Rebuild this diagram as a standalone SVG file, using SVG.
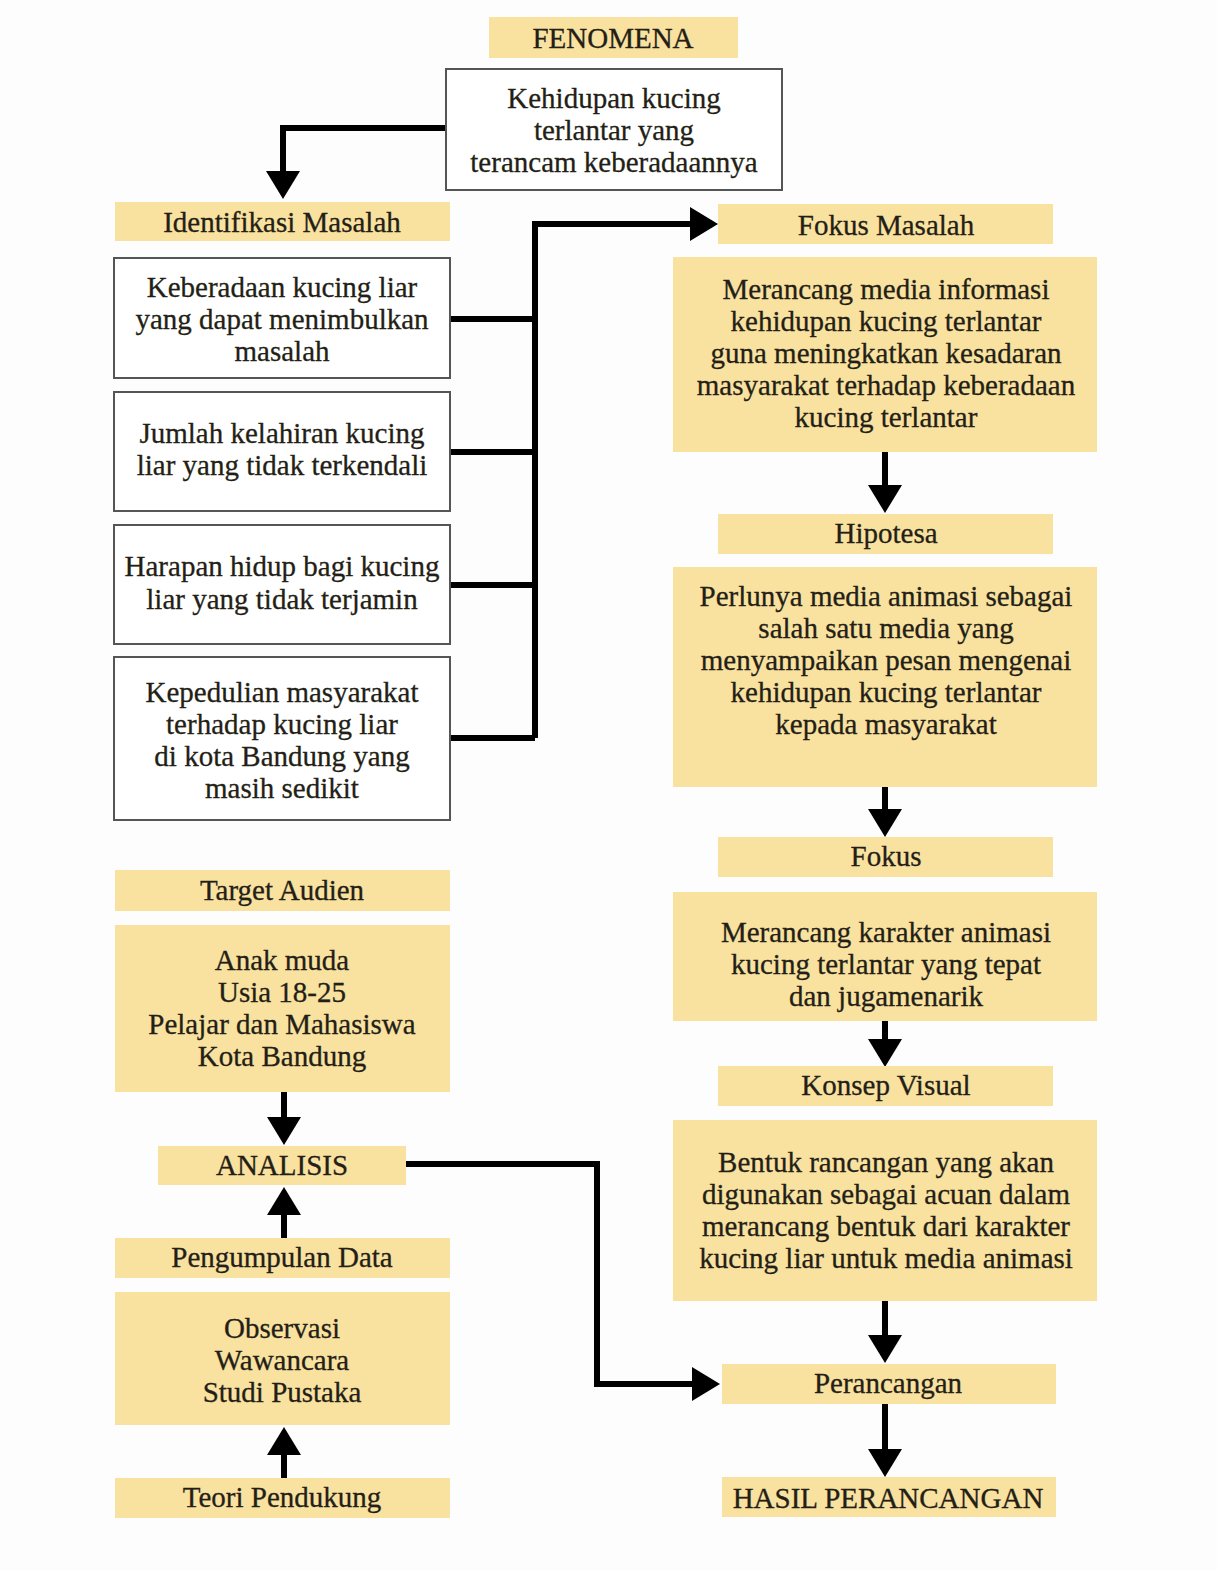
<svg xmlns="http://www.w3.org/2000/svg" width="1217" height="1571" viewBox="0 0 1217 1571">
<defs>
<style>
.bg{fill:#fdfdfd}
.y{fill:#f9e1a0}
.w{fill:#ffffff;stroke:#555;stroke-width:2}
text{font-family:"Liberation Serif","Times New Roman",serif;font-size:29px;fill:#241f16;stroke:#241f16;stroke-width:0.3;text-anchor:middle;dominant-baseline:central}
.c{fill:none;stroke:#000;stroke-width:6;stroke-linejoin:miter}
</style>
<marker id="ah" markerUnits="userSpaceOnUse" viewBox="0 -17 28 34" markerWidth="28" markerHeight="34" refX="1" refY="0" orient="auto">
<path d="M0,-17 L28,0 L0,17 z" fill="#000"/>
</marker>
</defs>
<rect class="bg" x="0" y="0" width="1217" height="1571"/>

<g id="connectors">
<path class="c" d="M446,128 H283 V172" marker-end="url(#ah)"/>
<path class="c" d="M450,319 H535 M450,452 H535 M450,585 H535 M450,738 H535 M535,738 V224 H691" marker-end="url(#ah)"/>
<path class="c" d="M885,452 V486" marker-end="url(#ah)"/>
<path class="c" d="M885,787 V810" marker-end="url(#ah)"/>
<path class="c" d="M885,1021 V1040" marker-end="url(#ah)"/>
<path class="c" d="M885,1301 V1336" marker-end="url(#ah)"/>
<path class="c" d="M885,1404 V1450" marker-end="url(#ah)"/>
<path class="c" d="M284,1092 V1118" marker-end="url(#ah)"/>
<path class="c" d="M284,1238 V1214" marker-end="url(#ah)"/>
<path class="c" d="M284,1478 V1454" marker-end="url(#ah)"/>
<path class="c" d="M406,1164 H597 V1384 H693" marker-end="url(#ah)"/>
</g>

<g id="fenomena"><rect class="y" x="489" y="17" width="249" height="41"/><text x="613" y="38">FENOMENA</text></g>
<g id="kehidupan"><rect class="w" x="446" y="69" width="336" height="121"/>
<text x="614" y="98">Kehidupan kucing</text><text x="614" y="130">terlantar yang</text><text x="614" y="162">terancam keberadaannya</text></g>

<g id="identifikasi"><rect class="y" x="115" y="202" width="335" height="39"/><text x="282" y="222">Identifikasi Masalah</text></g>
<g id="masalah1"><rect class="w" x="114" y="258" width="336" height="120"/>
<text x="282" y="287">Keberadaan kucing liar</text><text x="282" y="319">yang dapat menimbulkan</text><text x="282" y="351">masalah</text></g>
<g id="masalah2"><rect class="w" x="114" y="392" width="336" height="119"/>
<text x="282" y="433">Jumlah kelahiran kucing</text><text x="282" y="465">liar yang tidak terkendali</text></g>
<g id="masalah3"><rect class="w" x="114" y="525" width="336" height="119"/>
<text x="282" y="566">Harapan hidup bagi kucing</text><text x="282" y="599">liar yang tidak terjamin</text></g>
<g id="masalah4"><rect class="w" x="114" y="657" width="336" height="163"/>
<text x="282" y="692">Kepedulian masyarakat</text><text x="282" y="724">terhadap kucing liar</text><text x="282" y="756">di kota Bandung yang</text><text x="282" y="788">masih sedikit</text></g>

<g id="fokus-masalah"><rect class="y" x="718" y="204" width="335" height="40"/><text x="886" y="225">Fokus Masalah</text></g>
<g id="merancang-media"><rect class="y" x="673" y="257" width="424" height="195"/>
<text x="886" y="289">Merancang media informasi</text><text x="886" y="321">kehidupan kucing terlantar</text><text x="886" y="353">guna meningkatkan kesadaran</text><text x="886" y="385">masyarakat terhadap keberadaan</text><text x="886" y="417">kucing terlantar</text></g>

<g id="hipotesa"><rect class="y" x="718" y="514" width="335" height="40"/><text x="886" y="533">Hipotesa</text></g>
<g id="perlunya"><rect class="y" x="673" y="567" width="424" height="220"/>
<text x="886" y="596">Perlunya media animasi sebagai</text><text x="886" y="628">salah satu media yang</text><text x="886" y="660">menyampaikan pesan mengenai</text><text x="886" y="692">kehidupan kucing terlantar</text><text x="886" y="724">kepada masyarakat</text></g>

<g id="fokus"><rect class="y" x="718" y="837" width="335" height="40"/><text x="886" y="856">Fokus</text></g>
<g id="merancang-karakter"><rect class="y" x="673" y="892" width="424" height="129"/>
<text x="886" y="932">Merancang karakter animasi</text><text x="886" y="964">kucing terlantar yang tepat</text><text x="886" y="996">dan jugamenarik</text></g>

<g id="konsep-visual"><rect class="y" x="718" y="1066" width="335" height="40"/><text x="886" y="1085">Konsep Visual</text></g>
<g id="bentuk"><rect class="y" x="673" y="1120" width="424" height="181"/>
<text x="886" y="1162">Bentuk rancangan yang akan</text><text x="886" y="1194">digunakan sebagai acuan dalam</text><text x="886" y="1226">merancang bentuk dari karakter</text><text x="886" y="1258">kucing liar untuk media animasi</text></g>

<g id="perancangan"><rect class="y" x="722" y="1364" width="334" height="40"/><text x="888" y="1383">Perancangan</text></g>
<g id="hasil"><rect class="y" x="722" y="1477" width="334" height="40"/><text x="888" y="1498">HASIL PERANCANGAN</text></g>

<g id="target-audien"><rect class="y" x="115" y="870" width="335" height="41"/><text x="282" y="890">Target Audien</text></g>
<g id="anak-muda"><rect class="y" x="115" y="925" width="335" height="167"/>
<text x="282" y="960">Anak muda</text><text x="282" y="992">Usia 18-25</text><text x="282" y="1024">Pelajar dan Mahasiswa</text><text x="282" y="1056">Kota Bandung</text></g>

<g id="analisis"><rect class="y" x="158" y="1146" width="248" height="39"/><text x="282" y="1165">ANALISIS</text></g>
<g id="pengumpulan"><rect class="y" x="115" y="1238" width="335" height="40"/><text x="282" y="1257">Pengumpulan Data</text></g>
<g id="observasi"><rect class="y" x="115" y="1292" width="335" height="133"/>
<text x="282" y="1328">Observasi</text><text x="282" y="1360">Wawancara</text><text x="282" y="1392">Studi Pustaka</text></g>
<g id="teori"><rect class="y" x="115" y="1478" width="335" height="40"/><text x="282" y="1497">Teori Pendukung</text></g>
</svg>
